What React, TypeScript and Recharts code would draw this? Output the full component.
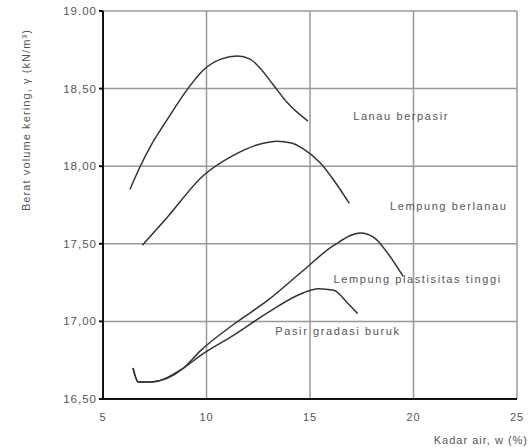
import { LineChart, Line, XAxis, YAxis, CartesianGrid, ReferenceDot } from "recharts";

// kadar air w (%) and berat volume kering γ (kN/m³)
const lanauBerpasirW = [6.3, 6.8, 7.3, 8.1, 9.1, 9.85, 10.7, 11.5, 12.1, 12.6, 13.25, 13.9, 14.9];
const lanauBerpasirG = [17.85, 18.0, 18.13, 18.3, 18.5, 18.62, 18.69, 18.71, 18.69, 18.63, 18.52, 18.41, 18.29];

const lempungBerlanauW = [6.9, 8.1, 9.85, 11.3, 12.8, 13.4, 14.1, 14.7, 15.5, 16.2, 16.9];
const lempungBerlanauG = [17.49, 17.67, 17.94, 18.07, 18.15, 18.16, 18.15, 18.11, 18.02, 17.9, 17.76];

const lempungPlastisW = [6.45, 6.7, 7.3, 8.9, 9.7, 11.3, 13.0, 14.6, 16.15, 17.45, 18.1, 18.75, 19.5];
const lempungPlastisG = [16.7, 16.61, 16.61, 16.7, 16.81, 16.98, 17.14, 17.32, 17.49, 17.57, 17.54, 17.44, 17.29];

const pasirGradasiW = [6.45, 6.7, 7.3, 8.9, 9.7, 11.3, 13.0, 14.6, 15.4, 16.15, 16.8, 17.3];
const pasirGradasiG = [16.7, 16.61, 16.61, 16.7, 16.78, 16.91, 17.06, 17.18, 17.21, 17.2, 17.12, 17.05];

const xTicks = [5, 10, 15, 20, 25];
const yTicks = [16.5, 17, 17.5, 18, 18.5, 19];
const yTickLabels = ["16,50", "17,00", "17,50", "18,00", "18,50", "19.00"];

const curveNames = ["Lanau berpasir", "Lempung berlanau", "Lempung plastisitas tinggi", "Pasir gradasi buruk"];
const nameW = [19.4, 21.7, 20.2, 16.35];
const nameG = [18.32, 17.74, 17.27, 16.94];

const toPoints = (w: number[], g: number[]) => w.map((v, i) => ({ w: v, g: g[i] }));

const series = [
  toPoints(lanauBerpasirW, lanauBerpasirG),
  toPoints(lempungBerlanauW, lempungBerlanauG),
  toPoints(lempungPlastisW, lempungPlastisG),
  toPoints(pasirGradasiW, pasirGradasiG),
];

const textStyle = { fontFamily: "Liberation Sans, Arial, sans-serif", fontSize: 11, fill: "#555", letterSpacing: 1 };

export default function App() {
  return (
    <div style={{ position: "absolute", left: 0, top: 0, background: "#fff" }}>
      <LineChart width={531} height={448} margin={{ top: 11, right: 14, bottom: 0, left: 0 }}>
        <CartesianGrid stroke="#999" strokeWidth={1.5} />
        <XAxis
          dataKey="w"
          type="number"
          domain={[5, 25]}
          ticks={xTicks}
          allowDataOverflow
          height={49}
          stroke="#111"
          strokeWidth={2}
          tickLine={false}
          tickSize={0}
          tickMargin={14}
          tick={textStyle}
          label={{
            content: () => (
              <text x={528} y={444} textAnchor="end" style={textStyle}>
                Kadar air, w (%)
              </text>
            ),
          }}
        />
        {/* top and right frame of the plot */}
        <XAxis
          xAxisId="top"
          orientation="top"
          type="number"
          domain={[5, 25]}
          height={0}
          stroke="#111"
          strokeWidth={2}
          tick={false}
          tickLine={false}
        />
        <YAxis
          dataKey="g"
          type="number"
          domain={[16.5, 19]}
          ticks={yTicks}
          allowDataOverflow
          width={103}
          stroke="#111"
          strokeWidth={2}
          tickSize={4}
          tickMargin={2}
          tick={{ ...textStyle, fontSize: 11.5 }}
          tickFormatter={(v: number) => yTickLabels[yTicks.indexOf(v)]}
          label={{
            content: () => (
              <text x={30} y={120} textAnchor="middle" transform="rotate(-90 30 120)" style={{ ...textStyle, letterSpacing: 1.1 }}>
                Berat volume kering, γ (kN/m³)
              </text>
            ),
          }}
        />
        <YAxis
          yAxisId="right"
          orientation="right"
          type="number"
          domain={[16.5, 19]}
          width={0}
          stroke="#111"
          strokeWidth={2}
          tick={false}
          tickLine={false}
        />
        {series.map((d, i) => (
          <Line
            key={curveNames[i]}
            data={d}
            dataKey="g"
            type="monotone"
            stroke="#333"
            strokeWidth={1.5}
            dot={false}
            isAnimationActive={false}
          />
        ))}
        {curveNames.map((n, i) => (
          <ReferenceDot
            key={n}
            x={nameW[i]}
            y={nameG[i]}
            r={0}
            stroke="none"
            fill="none"
            label={{ value: n, position: "center", style: { ...textStyle, fontSize: 11, letterSpacing: 1.6 } }}
          />
        ))}
      </LineChart>
    </div>
  );
}
